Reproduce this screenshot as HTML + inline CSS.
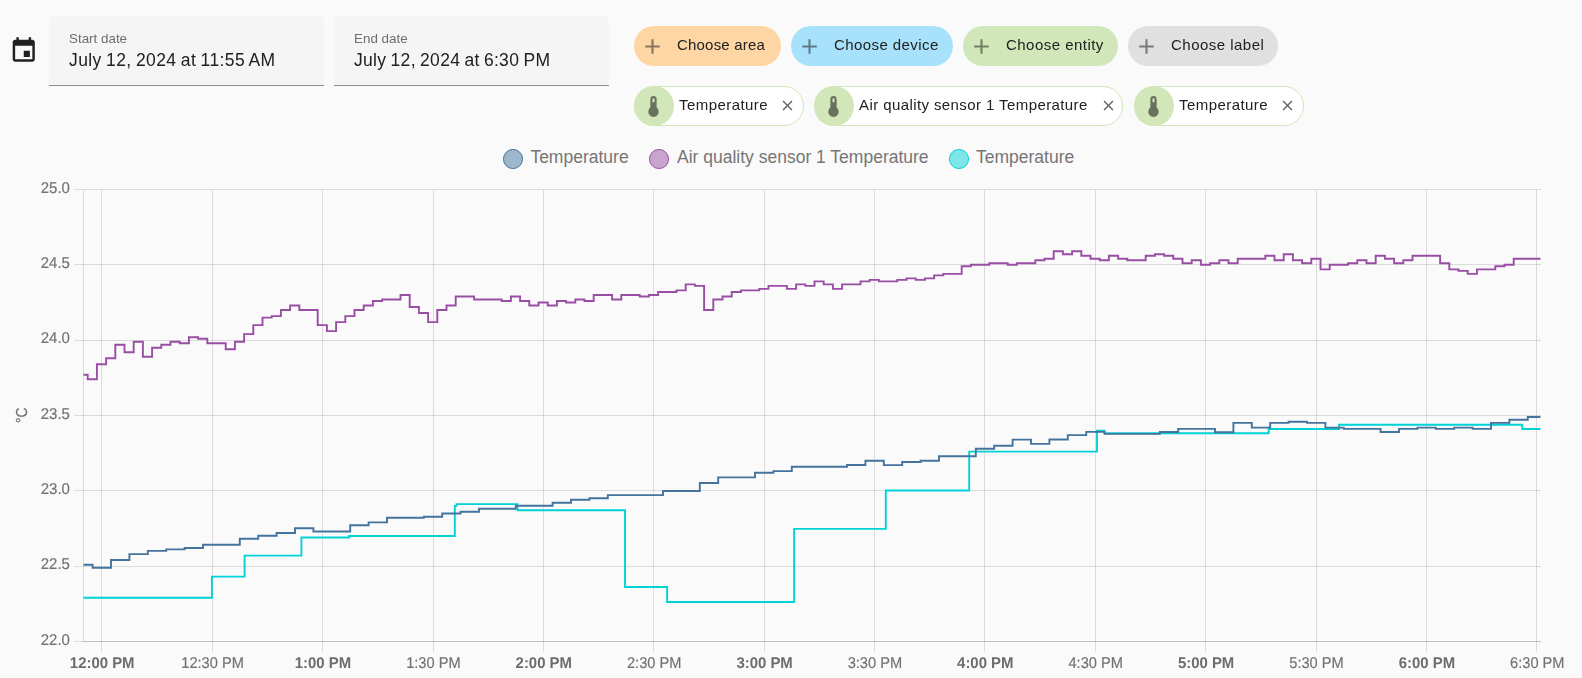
<!DOCTYPE html>
<html>
<head>
<meta charset="utf-8">
<title>History</title>
<style>
html,body{margin:0;padding:0;}
body{width:1582px;height:678px;overflow:hidden;background:#fafafa;font-family:"Liberation Sans",sans-serif;position:relative;color:#212121;}
.abs{position:absolute;}
.field{position:absolute;top:16px;height:69px;width:275px;background:#f5f5f5;border-bottom:1px solid #8d8d8d;border-radius:5px 5px 0 0;}
.field .lbl{will-change:transform;position:absolute;left:20px;top:15.9px;font-size:13.4px;line-height:14px;color:#6e6e6e;white-space:nowrap;}
.field .val{will-change:transform;position:absolute;left:20px;top:34px;font-size:17.5px;line-height:20px;color:#212121;white-space:nowrap;letter-spacing:0.4px;word-spacing:-0.9px;}
.chip{position:absolute;height:40px;border-radius:20px;box-sizing:border-box;font-size:15px;white-space:nowrap;}
.chip.add{top:26px;}
.chip.add svg{position:absolute;left:6px;top:7.5px;width:25px;height:25px;}
.chip.add span{will-change:transform;position:absolute;left:43.2px;top:9.8px;line-height:17px;color:#212121;}
.chip.ent{top:86px;background:#fff;border:1px solid #d2e7b9;}
.chip.ent .ic{position:absolute;left:-1px;top:-1px;width:40px;height:40px;border-radius:50%;background:#d2e7b9;}
.chip.ent .ic svg{position:absolute;left:7.2px;top:7.9px;width:25px;height:25px;}
.chip.ent span{will-change:transform;position:absolute;left:43.8px;top:8.8px;line-height:17px;color:#212121;}
.chip.ent .x{position:absolute;right:6.6px;top:10.4px;width:17px;height:17px;}
.leg{position:absolute;top:149px;width:17.6px;height:17.6px;border-radius:50%;border:1.2px solid;}
.legt{position:absolute;top:146.8px;font-size:17.5px;line-height:20px;color:#757575;white-space:nowrap;}
.yl{position:absolute;left:20px;width:49.7px;text-align:right;font-size:15.5px;line-height:16px;color:#727272;will-change:transform;-webkit-text-stroke:0.2px #727272;}
.xl{position:absolute;top:654.2px;width:120px;margin-left:-60px;text-align:center;font-size:15.4px;line-height:16px;color:#727272;white-space:nowrap;will-change:transform;-webkit-text-stroke:0.15px #727272;}
.xl.b{font-weight:700;color:#6a6a6a;}
</style>
</head>
<body>

<!-- calendar icon -->
<svg class="abs" style="left:9.2px;top:36px;width:29.5px;height:29.5px" viewBox="0 0 24 24"><path fill="#212121" d="M19,19H5V8H19M16,1V3H8V1H6V3H5C3.89,3 3,3.89 3,5V19A2,2 0 0,0 5,21H19A2,2 0 0,0 21,19V5C21,3.89 20.1,3 19,3H18V1M17,12H12V17H17V12Z"/></svg>

<div class="field" style="left:49px"><div class="lbl">Start date</div><div class="val">July 12, 2024 at 11:55 AM</div></div>
<div class="field" style="left:334px"><div class="lbl">End date</div><div class="val" style="letter-spacing:0.3px">July 12, 2024 at 6:30 PM</div></div>

<!-- add chips -->
<div class="chip add" style="left:634px;width:147px;background:#fed6a4"><svg viewBox="0 0 24 24"><path fill="#212121" fill-opacity="0.54" d="M19,13H13V19H11V13H5V11H11V5H13V11H19V13Z"/></svg><span style="letter-spacing:0.2px">Choose area</span></div>
<div class="chip add" style="left:791px;width:162px;background:#a8e1fb"><svg viewBox="0 0 24 24"><path fill="#212121" fill-opacity="0.54" d="M19,13H13V19H11V13H5V11H11V5H13V11H19V13Z"/></svg><span style="letter-spacing:0.42px">Choose device</span></div>
<div class="chip add" style="left:963px;width:155px;background:#d2e7b9"><svg viewBox="0 0 24 24"><path fill="#212121" fill-opacity="0.54" d="M19,13H13V19H11V13H5V11H11V5H13V11H19V13Z"/></svg><span style="letter-spacing:0.47px">Choose entity</span></div>
<div class="chip add" style="left:1128px;width:150px;background:#e0e0e0"><svg viewBox="0 0 24 24"><path fill="#212121" fill-opacity="0.54" d="M19,13H13V19H11V13H5V11H11V5H13V11H19V13Z"/></svg><span style="letter-spacing:0.48px">Choose label</span></div>

<!-- entity chips -->
<div class="chip ent" style="left:634px;width:170px"><div class="ic"><svg viewBox="0 0 24 24"><path fill="#212121" fill-opacity="0.6" d="M15 13V5A3 3 0 0 0 9 5V13A5 5 0 1 0 15 13M12 4A1 1 0 0 1 13 5V8H11V5A1 1 0 0 1 12 4Z"/></svg></div><span style="letter-spacing:0.44px">Temperature</span><svg class="x" viewBox="0 0 24 24"><path fill="#212121" fill-opacity="0.7" d="M19,6.41L17.59,5L12,10.59L6.41,5L5,6.41L10.59,12L5,17.59L6.41,19L12,13.41L17.59,19L19,17.59L13.41,12L19,6.41Z"/></svg></div>
<div class="chip ent" style="left:814px;width:309px"><div class="ic"><svg viewBox="0 0 24 24"><path fill="#212121" fill-opacity="0.6" d="M15 13V5A3 3 0 0 0 9 5V13A5 5 0 1 0 15 13M12 4A1 1 0 0 1 13 5V8H11V5A1 1 0 0 1 12 4Z"/></svg></div><span style="letter-spacing:0.41px">Air quality sensor 1 Temperature</span><svg class="x" style="right:5.4px" viewBox="0 0 24 24"><path fill="#212121" fill-opacity="0.7" d="M19,6.41L17.59,5L12,10.59L6.41,5L5,6.41L10.59,12L5,17.59L6.41,19L12,13.41L17.59,19L19,17.59L13.41,12L19,6.41Z"/></svg></div>
<div class="chip ent" style="left:1134px;width:170px"><div class="ic"><svg viewBox="0 0 24 24"><path fill="#212121" fill-opacity="0.6" d="M15 13V5A3 3 0 0 0 9 5V13A5 5 0 1 0 15 13M12 4A1 1 0 0 1 13 5V8H11V5A1 1 0 0 1 12 4Z"/></svg></div><span style="letter-spacing:0.44px">Temperature</span><svg class="x" viewBox="0 0 24 24"><path fill="#212121" fill-opacity="0.7" d="M19,6.41L17.59,5L12,10.59L6.41,5L5,6.41L10.59,12L5,17.59L6.41,19L12,13.41L17.59,19L19,17.59L13.41,12L19,6.41Z"/></svg></div>

<!-- legend -->
<div class="leg" style="left:503px;background:rgba(68,115,158,0.5);border-color:#44739e"></div><div class="legt" style="left:530.4px">Temperature</div>
<div class="leg" style="left:649px;background:rgba(152,78,163,0.5);border-color:#984ea3"></div><div class="legt" style="left:677px">Air quality sensor 1 Temperature</div>
<div class="leg" style="left:949px;background:rgba(0,210,213,0.5);border-color:#00d2d5"></div><div class="legt" style="left:976px">Temperature</div>

<!-- CHART -->
<svg class="abs" id="chart" style="left:0;top:0" width="1582" height="678" viewBox="0 0 1582 678">
<g id="grid" stroke="#000" stroke-opacity="0.12" stroke-width="1" shape-rendering="crispEdges" fill="none">
<path d="M74 189.5H1540.5"/><path d="M74 264.5H1540.5"/><path d="M74 340.5H1540.5"/><path d="M74 415.5H1540.5"/><path d="M74 490.5H1540.5"/><path d="M74 566.5H1540.5"/><path d="M74 641.5H1540.5"/><path d="M83.5 189.5V641"/><path d="M83 641.5H1540.5"/><path d="M101.5 189.5V652"/><path d="M212.5 189.5V652"/><path d="M322.5 189.5V652"/><path d="M433.5 189.5V652"/><path d="M543.5 189.5V652"/><path d="M653.5 189.5V652"/><path d="M764.5 189.5V652"/><path d="M874.5 189.5V652"/><path d="M984.5 189.5V652"/><path d="M1095.5 189.5V652"/><path d="M1205.5 189.5V652"/><path d="M1316.5 189.5V652"/><path d="M1426.5 189.5V652"/><path d="M1536.5 189.5V652"/>

</g>
<path d="M83.5 597.7L211.9 597.7L211.9 576.6L244.6 576.6L244.6 555.6L301.4 555.6L301.4 537.5L349.0 537.5L349.0 536.0L454.8 536.0L454.8 505.9L456.5 505.9L456.5 504.1L517.5 504.1L517.5 510.2L625.0 510.2L625.0 587.0L667.1 587.0L667.1 602.0L794.1 602.0L794.1 528.9L885.8 528.9L885.8 490.5L969.2 490.5L969.2 451.6L1097.0 451.6L1097.0 430.7L1104.6 430.7L1104.6 433.3L1268.7 433.3L1268.7 429.0L1339.1 429.0L1339.1 424.8L1522.3 424.8L1522.3 429.0L1540.5 429.0" fill="none" stroke="#00d2d5" stroke-width="1.9" stroke-linejoin="miter" stroke-linecap="butt"/>
<path d="M83.5 374.8L87.7 374.8L87.7 379.3L96.9 379.3L96.9 364.3L106.1 364.3L106.1 358.3L115.3 358.3L115.3 344.7L124.5 344.7L124.5 352.2L133.7 352.2L133.7 341.7L142.9 341.7L142.9 356.7L152.1 356.7L152.1 347.7L161.3 347.7L161.3 344.7L170.5 344.7L170.5 341.7L179.7 341.7L179.7 343.2L188.9 343.2L188.9 337.2L198.1 337.2L198.1 338.7L207.3 338.7L207.3 343.2L216.5 343.2L225.7 343.2L225.7 349.2L234.9 349.2L234.9 341.7L244.1 341.7L244.1 334.1L253.3 334.1L253.3 325.1L262.5 325.1L262.5 317.6L271.7 317.6L271.7 316.1L280.9 316.1L280.9 310.0L290.1 310.0L290.1 305.5L299.3 305.5L299.3 310.0L308.5 310.0L317.7 310.0L317.7 325.1L326.9 325.1L326.9 331.1L336.1 331.1L336.1 322.1L345.3 322.1L345.3 316.1L354.5 316.1L354.5 310.0L363.7 310.0L363.7 305.5L372.9 305.5L372.9 301.0L382.1 301.0L382.1 299.5L391.3 299.5L400.5 299.5L400.5 295.0L409.7 295.0L409.7 307.0L418.9 307.0L418.9 313.0L428.1 313.0L428.1 322.1L437.3 322.1L437.3 310.0L446.5 310.0L446.5 305.5L455.7 305.5L455.7 296.5L464.9 296.5L474.1 296.5L474.1 299.5L483.3 299.5L492.5 299.5L501.7 299.5L501.7 301.0L510.9 301.0L510.9 296.5L520.1 296.5L520.1 301.0L529.3 301.0L529.3 305.5L538.5 305.5L538.5 302.5L547.7 302.5L547.7 305.5L556.9 305.5L556.9 301.0L566.1 301.0L566.1 302.5L575.3 302.5L575.3 299.5L584.5 299.5L584.5 301.0L593.7 301.0L593.7 295.0L602.9 295.0L612.1 295.0L612.1 299.5L621.3 299.5L621.3 295.0L630.5 295.0L639.7 295.0L639.7 296.5L648.9 296.5L648.9 295.0L658.1 295.0L658.1 292.0L667.3 292.0L676.5 292.0L676.5 290.4L685.7 290.4L685.7 284.4L694.9 284.4L694.9 285.9L704.1 285.9L704.1 310.0L713.3 310.0L713.3 299.5L722.5 299.5L722.5 296.5L731.7 296.5L731.7 292.0L740.9 292.0L740.9 290.4L750.1 290.4L759.3 290.4L759.3 288.9L768.5 288.9L768.5 285.9L777.7 285.9L786.9 285.9L786.9 288.9L796.1 288.9L796.1 284.4L805.3 284.4L805.3 285.9L814.5 285.9L814.5 281.4L823.7 281.4L823.7 284.4L832.9 284.4L832.9 288.9L842.1 288.9L842.1 284.4L851.3 284.4L860.5 284.4L860.5 281.4L869.7 281.4L869.7 279.9L878.9 279.9L878.9 281.4L888.1 281.4L897.3 281.4L897.3 279.9L906.5 279.9L906.5 278.4L915.7 278.4L915.7 279.9L924.9 279.9L924.9 278.4L934.1 278.4L934.1 275.4L943.3 275.4L943.3 273.9L952.5 273.9L961.7 273.9L961.7 266.3L970.9 266.3L970.9 264.8L980.1 264.8L989.3 264.8L989.3 263.3L998.5 263.3L1007.7 263.3L1007.7 264.8L1016.9 264.8L1016.9 263.3L1026.1 263.3L1035.3 263.3L1035.3 260.3L1044.5 260.3L1044.5 258.8L1053.7 258.8L1053.7 251.3L1062.9 251.3L1062.9 254.3L1072.1 254.3L1072.1 251.3L1081.3 251.3L1081.3 255.8L1090.5 255.8L1090.5 258.8L1099.7 258.8L1099.7 260.3L1108.9 260.3L1108.9 255.8L1118.1 255.8L1118.1 258.8L1127.3 258.8L1127.3 260.3L1136.5 260.3L1145.7 260.3L1145.7 255.8L1154.9 255.8L1154.9 254.3L1164.1 254.3L1164.1 255.8L1173.3 255.8L1173.3 258.8L1182.5 258.8L1182.5 263.3L1191.7 263.3L1191.7 260.3L1200.9 260.3L1200.9 264.8L1210.1 264.8L1210.1 263.3L1219.3 263.3L1219.3 260.3L1228.5 260.3L1228.5 263.3L1237.7 263.3L1237.7 258.8L1246.9 258.8L1256.1 258.8L1265.3 258.8L1265.3 255.8L1274.5 255.8L1274.5 260.3L1283.7 260.3L1283.7 254.3L1292.9 254.3L1292.9 260.3L1302.1 260.3L1302.1 263.3L1311.3 263.3L1311.3 258.8L1320.5 258.8L1320.5 269.4L1329.7 269.4L1329.7 264.8L1338.9 264.8L1348.1 264.8L1348.1 263.3L1357.3 263.3L1357.3 260.3L1366.5 260.3L1366.5 263.3L1375.7 263.3L1375.7 255.8L1384.9 255.8L1384.9 258.8L1394.1 258.8L1394.1 263.3L1403.3 263.3L1403.3 260.3L1412.5 260.3L1412.5 255.8L1421.7 255.8L1430.9 255.8L1440.1 255.8L1440.1 263.3L1449.3 263.3L1449.3 269.4L1458.5 269.4L1458.5 270.9L1467.7 270.9L1467.7 273.9L1476.9 273.9L1476.9 269.4L1486.1 269.4L1495.3 269.4L1495.3 266.3L1504.5 266.3L1504.5 264.8L1513.7 264.8L1513.7 258.8L1522.9 258.8L1532.1 258.8L1540.5 258.8" fill="none" stroke="#984ea3" stroke-width="1.9" stroke-linejoin="miter" stroke-linecap="butt"/>
<path d="M83.5 564.8L92.6 564.8L92.6 567.7L111.0 567.7L111.0 560.0L129.4 560.0L129.4 554.1L147.8 554.1L147.8 550.9L166.2 550.9L166.2 549.4L184.6 549.4L184.6 548.0L203.0 548.0L203.0 544.8L221.4 544.8L239.8 544.8L239.8 538.7L258.2 538.7L258.2 535.8L276.6 535.8L276.6 533.0L295.0 533.0L295.0 528.3L313.4 528.3L313.4 531.5L331.8 531.5L350.2 531.5L350.2 525.3L368.6 525.3L368.6 522.4L387.0 522.4L387.0 517.7L405.4 517.7L423.8 517.7L423.8 516.7L442.2 516.7L442.2 513.5L460.6 513.5L460.6 511.8L479.0 511.8L479.0 508.7L497.4 508.7L515.8 508.7L515.8 505.8L534.2 505.8L552.6 505.8L552.6 502.7L571.0 502.7L571.0 499.8L589.4 499.8L589.4 498.3L607.8 498.3L607.8 495.1L626.2 495.1L644.6 495.1L663.0 495.1L663.0 491.0L681.4 491.0L699.8 491.0L699.8 483.0L718.2 483.0L718.2 477.4L736.6 477.4L755.0 477.4L755.0 472.7L773.4 472.7L773.4 471.1L791.8 471.1L791.8 466.8L810.2 466.8L828.6 466.8L847.0 466.8L847.0 465.0L865.4 465.0L865.4 460.7L883.8 460.7L883.8 465.1L902.2 465.1L902.2 462.0L920.6 462.0L920.6 460.7L939.0 460.7L939.0 456.3L957.4 456.3L975.8 456.3L975.8 448.8L994.2 448.8L994.2 445.7L1012.6 445.7L1012.6 439.6L1031.0 439.6L1031.0 443.9L1049.4 443.9L1049.4 439.5L1067.8 439.5L1067.8 435.1L1086.2 435.1L1086.2 431.9L1104.6 431.9L1104.6 433.9L1123.0 433.9L1141.4 433.9L1159.8 433.9L1159.8 432.0L1178.2 432.0L1178.2 428.9L1196.6 428.9L1215.0 428.9L1215.0 432.2L1233.4 432.2L1233.4 422.9L1251.8 422.9L1251.8 427.6L1270.2 427.6L1270.2 422.9L1288.6 422.9L1288.6 421.7L1307.0 421.7L1307.0 422.9L1325.4 422.9L1325.4 427.6L1343.8 427.6L1343.8 428.9L1362.2 428.9L1380.6 428.9L1380.6 432.0L1399.0 432.0L1399.0 428.9L1417.4 428.9L1417.4 427.6L1435.8 427.6L1435.8 428.9L1454.2 428.9L1454.2 427.6L1472.6 427.6L1472.6 428.9L1491.0 428.9L1491.0 422.9L1509.4 422.9L1509.4 419.8L1527.8 419.8L1527.8 417.0L1540.5 417.0" fill="none" stroke="#44739e" stroke-width="1.9" stroke-linejoin="miter" stroke-linecap="butt"/>

</svg>

<svg class="abs" style="left:0;top:0;will-change:transform" width="1582" height="678" viewBox="0 0 1582 678">
<g font-family="Liberation Sans, sans-serif" font-size="15" fill="#727272" stroke="#727272" stroke-width="0.18" text-rendering="geometricPrecision">
<text text-anchor="end" transform="translate(69.9,192.6) scale(1,1.035)">25.0</text>
<text text-anchor="end" transform="translate(69.9,267.9) scale(1,1.035)">24.5</text>
<text text-anchor="end" transform="translate(69.9,343.3) scale(1,1.035)">24.0</text>
<text text-anchor="end" transform="translate(69.9,418.6) scale(1,1.035)">23.5</text>
<text text-anchor="end" transform="translate(69.9,493.9) scale(1,1.035)">23.0</text>
<text text-anchor="end" transform="translate(69.9,569.3) scale(1,1.035)">22.5</text>
<text text-anchor="end" transform="translate(69.9,644.6) scale(1,1.035)">22.0</text>
<text text-anchor="middle" font-weight="700" fill="#6c6c6c" stroke="none" transform="translate(102.2,667.6) scale(0.995,1.035)">12:00 PM</text>
<text text-anchor="middle" transform="translate(212.6,667.6) scale(0.975,1.035)">12:30 PM</text>
<text text-anchor="middle" font-weight="700" fill="#6c6c6c" stroke="none" transform="translate(323.0,667.6) scale(0.995,1.035)">1:00 PM</text>
<text text-anchor="middle" transform="translate(433.4,667.6) scale(0.975,1.035)">1:30 PM</text>
<text text-anchor="middle" font-weight="700" fill="#6c6c6c" stroke="none" transform="translate(543.8,667.6) scale(0.995,1.035)">2:00 PM</text>
<text text-anchor="middle" transform="translate(654.2,667.6) scale(0.975,1.035)">2:30 PM</text>
<text text-anchor="middle" font-weight="700" fill="#6c6c6c" stroke="none" transform="translate(764.6,667.6) scale(0.995,1.035)">3:00 PM</text>
<text text-anchor="middle" transform="translate(874.9,667.6) scale(0.975,1.035)">3:30 PM</text>
<text text-anchor="middle" font-weight="700" fill="#6c6c6c" stroke="none" transform="translate(985.3,667.6) scale(0.995,1.035)">4:00 PM</text>
<text text-anchor="middle" transform="translate(1095.7,667.6) scale(0.975,1.035)">4:30 PM</text>
<text text-anchor="middle" font-weight="700" fill="#6c6c6c" stroke="none" transform="translate(1206.1,667.6) scale(0.995,1.035)">5:00 PM</text>
<text text-anchor="middle" transform="translate(1316.5,667.6) scale(0.975,1.035)">5:30 PM</text>
<text text-anchor="middle" font-weight="700" fill="#6c6c6c" stroke="none" transform="translate(1426.9,667.6) scale(0.995,1.035)">6:00 PM</text>
<text text-anchor="middle" transform="translate(1537.3,667.6) scale(0.975,1.035)">6:30 PM</text>
<text text-anchor="middle" transform="translate(27.2,415.3) rotate(-90) scale(0.92,1.06)">°C</text>
</g>
</svg>


</body>
</html>
